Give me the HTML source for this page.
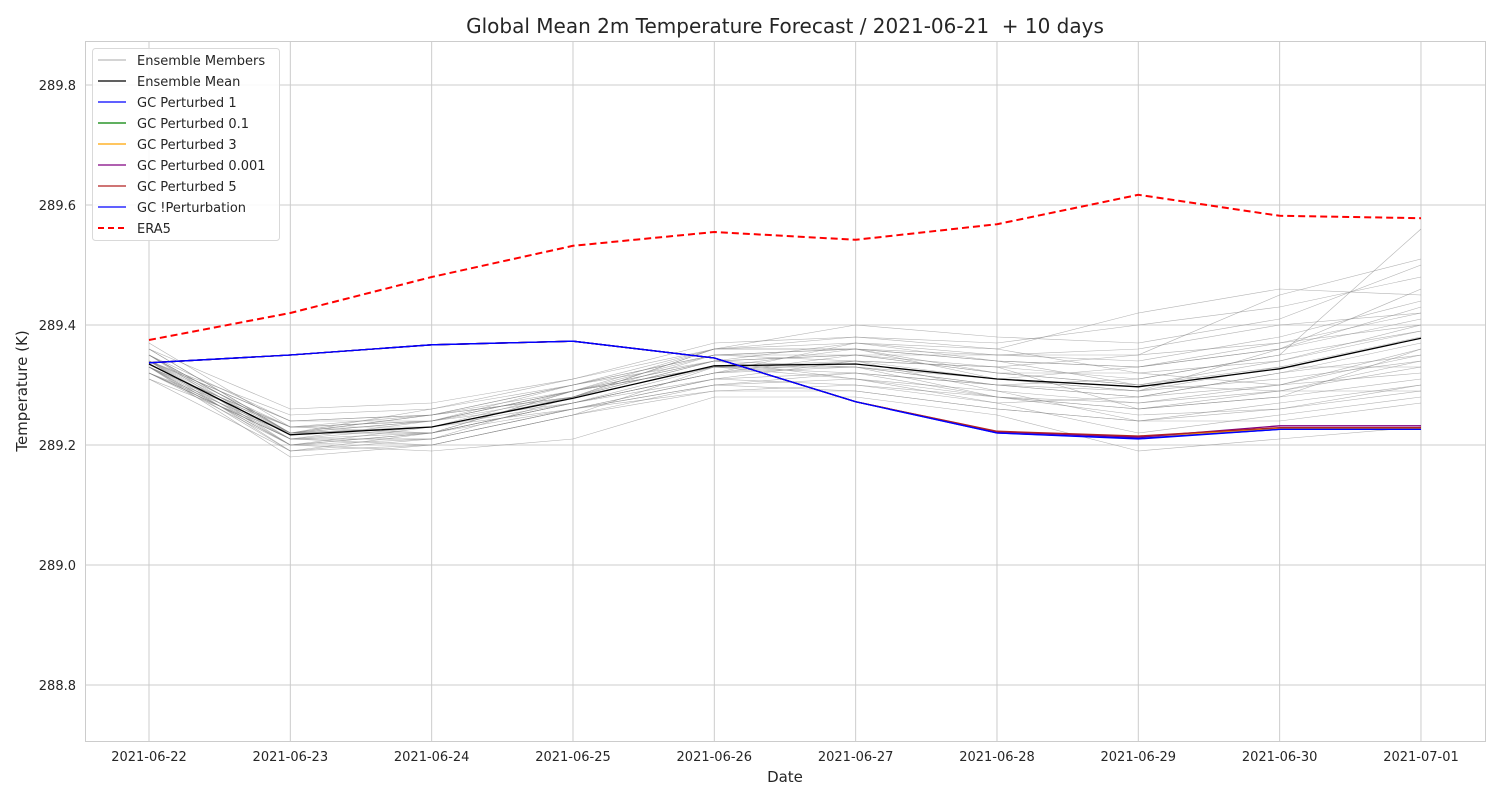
<!DOCTYPE html>
<html><head><meta charset="utf-8">
<style>
body{margin:0;background:#fff;}
svg text{font-family:"DejaVu Sans","Liberation Sans",sans-serif;fill:#262626;}
</style></head>
<body>
<svg id="chart" width="1500" height="800" xmlns="http://www.w3.org/2000/svg">
<rect width="1500" height="800" fill="#fff"/>
<g id="grid"></g>
<g id="members"></g>
<g id="series"></g>
<g id="axes"></g>
<text x="785" y="33" font-size="20" text-anchor="middle" style="white-space:pre">Global Mean 2m Temperature Forecast / 2021-06-21  + 10 days</text>
<text x="785" y="782" font-size="15" text-anchor="middle">Date</text>
<text x="27" y="391" font-size="15" text-anchor="middle" transform="rotate(-90 27 391)">Temperature (K)</text>
<g id="legend"></g>
</svg>
<script>
const dates=["2021-06-22","2021-06-23","2021-06-24","2021-06-25","2021-06-26","2021-06-27","2021-06-28","2021-06-29","2021-06-30","2021-07-01"];
const yTicks=[288.8,289.0,289.2,289.4,289.6,289.8];
const era5=[289.375,289.42,289.48,289.532,289.555,289.542,289.568,289.617,289.582,289.578];
const ensMean=[289.335,289.217,289.23,289.278,289.332,289.335,289.31,289.297,289.327,289.378];
const gc1=[289.337,289.35,289.367,289.373,289.345,289.272,289.22,289.21,289.226,289.226];
const gc01=[289.337,289.35,289.367,289.373,289.345,289.272,289.222,289.214,289.228,289.228];
const gc3=[289.337,289.35,289.367,289.373,289.345,289.272,289.222,289.213,289.228,289.228];
const gc0001=[289.337,289.35,289.367,289.373,289.345,289.272,289.222,289.213,289.232,289.232];
const gc5=[289.337,289.35,289.367,289.373,289.345,289.272,289.223,289.215,289.229,289.229];
const gcNone=[289.337,289.35,289.367,289.373,289.345,289.272,289.22,289.211,289.226,289.226];
const members=[
[289.34,289.22,289.23,289.28,289.34,289.35,289.32,289.30,289.34,289.40],
[289.33,289.21,289.22,289.27,289.33,289.33,289.30,289.28,289.30,289.36],
[289.35,289.24,289.25,289.30,289.35,289.36,289.34,289.33,289.36,289.46],
[289.32,289.20,289.21,289.26,289.31,289.32,289.28,289.26,289.29,289.33],
[289.36,289.26,289.27,289.31,289.37,289.38,289.36,289.42,289.46,289.45],
[289.31,289.19,289.20,289.25,289.29,289.29,289.26,289.24,289.27,289.30],
[289.33,289.23,289.24,289.29,289.36,289.40,289.38,289.37,289.41,289.50],
[289.34,289.20,289.19,289.21,289.28,289.28,289.25,289.19,289.21,289.23],
[289.35,289.22,289.22,289.27,289.32,289.34,289.33,289.31,289.35,289.56],
[289.32,289.21,289.23,289.29,289.34,289.31,289.29,289.27,289.29,289.29],
[289.34,289.25,289.26,289.30,289.35,289.36,289.35,289.36,289.40,289.42],
[289.33,289.19,289.21,289.26,289.30,289.32,289.30,289.28,289.32,289.37],
[289.37,289.23,289.24,289.28,289.33,289.34,289.31,289.33,289.37,289.40],
[289.31,289.22,289.22,289.27,289.31,289.30,289.27,289.22,289.25,289.28],
[289.35,289.21,289.24,289.30,289.34,289.35,289.33,289.35,289.45,289.51],
[289.33,289.18,289.20,289.25,289.33,289.33,289.31,289.29,289.31,289.34],
[289.34,289.24,289.25,289.28,289.36,289.37,289.34,289.30,289.33,289.38],
[289.32,289.22,289.23,289.26,289.29,289.30,289.28,289.25,289.26,289.30],
[289.36,289.22,289.26,289.31,289.36,289.38,289.37,289.40,289.43,289.48],
[289.33,289.20,289.22,289.27,289.32,289.33,289.28,289.27,289.30,289.35],
[289.34,289.23,289.22,289.29,289.33,289.36,289.32,289.32,289.34,289.39],
[289.32,289.21,289.20,289.25,289.30,289.29,289.26,289.24,289.24,289.27],
[289.35,289.22,289.25,289.29,289.35,289.35,289.35,289.34,289.38,289.44],
[289.33,289.23,289.23,289.28,289.34,289.33,289.30,289.29,289.33,289.33],
[289.34,289.19,289.22,289.26,289.31,289.34,289.33,289.26,289.28,289.36],
[289.36,289.22,289.24,289.29,289.34,289.37,289.35,289.35,289.37,289.42],
[289.32,289.21,289.21,289.26,289.30,289.31,289.28,289.26,289.28,289.31],
[289.34,289.24,289.24,289.29,289.33,289.32,289.30,289.31,289.35,289.39],
[289.33,289.20,289.23,289.27,289.32,289.35,289.32,289.30,289.29,289.34],
[289.35,289.22,289.25,289.30,289.36,289.36,289.34,289.33,289.36,289.41],
[289.34,289.21,289.21,289.28,289.35,289.34,289.29,289.24,289.26,289.29],
[289.33,289.22,289.24,289.27,289.32,289.37,289.36,289.32,289.30,289.32],
[289.35,289.20,289.22,289.29,289.33,289.31,289.27,289.28,289.32,289.35],
[289.32,289.23,289.25,289.28,289.36,289.36,289.31,289.29,289.36,289.43]
];
const NS="http://www.w3.org/2000/svg";
const X0=149,XSTEP=141.33,Y0=325,YPX=600;
function xs(i){return X0+i*XSTEP;}
function ys(v){return Y0-(v-289.4)*YPX;}
function mk(tag,attrs,parent){const e=document.createElementNS(NS,tag);for(const k in attrs)e.setAttribute(k,attrs[k]);parent.appendChild(e);return e;}
const grid=document.getElementById('grid'),axes=document.getElementById('axes');
mk('rect',{x:85.5,y:41.5,width:1400,height:700,fill:'none',stroke:'#cccccc','stroke-width':1},axes);
dates.forEach((d,i)=>{
 const l=mk('line',{x1:xs(i),x2:xs(i),y1:41,y2:741,stroke:'#cccccc','stroke-width':1},grid);
 
 
 const t=mk('text',{x:xs(i),y:761,'font-size':13,'text-anchor':'middle'},axes);
 t.textContent=d;
 
 
});
yTicks.forEach(v=>{
 const l=mk('line',{x1:85,x2:1485,y1:ys(v),y2:ys(v),stroke:'#cccccc','stroke-width':1},grid);
 
 
 const t=mk('text',{x:76,y:ys(v)+5,'font-size':13,'text-anchor':'end'},axes);
 t.textContent=v.toFixed(1);
 
 
});
function pts(arr){return arr.map((v,i)=>xs(i).toFixed(1)+','+ys(v).toFixed(1)).join(' ');}
const mg=document.getElementById('members');
members.forEach(m=>{
 const p=mk('polyline',{points:pts(m),fill:'none',stroke:'#808080','stroke-width':0.6,'stroke-opacity':0.6},mg);
 
 
});
const sg=document.getElementById('series');
const series=[
 {d:ensMean,c:'#000000',n:'ensemble-mean-line'},
 {d:gc01,c:'#008000',n:'gc-perturbed-0.1-line'},
 {d:gc3,c:'#ffa500',n:'gc-perturbed-3-line'},
 {d:gc0001,c:'#800080',n:'gc-perturbed-0.001-line'},
 {d:gc5,c:'#b22222',n:'gc-perturbed-5-line'},
 {d:gc1,c:'#0000ff',n:'gc-perturbed-1-line'},
 {d:gcNone,c:'#0000ff',n:'gc-no-perturbation-line'}
];
series.forEach(s=>{
 const p=mk('polyline',{points:pts(s.d),fill:'none',stroke:s.c,'stroke-width':1.3},sg);
 
 
});
const ep=mk('polyline',{points:pts(era5),fill:'none',stroke:'#ff0000','stroke-width':2,'stroke-dasharray':'7,4'},sg);


const lg=document.getElementById('legend');
mk('rect',{x:92.5,y:48.5,width:187,height:192,rx:3,fill:'#fff','fill-opacity':0.85,stroke:'#d9d9d9'},lg);
const entries=[['Ensemble Members','#bbbbbb',''],['Ensemble Mean','#000000',''],['GC Perturbed 1','#0000ff',''],['GC Perturbed 0.1','#008000',''],['GC Perturbed 3','#ffa500',''],['GC Perturbed 0.001','#800080',''],['GC Perturbed 5','#b22222',''],['GC !Perturbation','#0000ff',''],['ERA5','#ff0000','6,4']];
entries.forEach((e,i)=>{
 const y=60+i*21;
 const g=mk('g',{},lg);
 
 
 mk('line',{x1:98,x2:126,y1:y,y2:y,stroke:e[1],'stroke-width':e[2]?2:1.3,'stroke-dasharray':e[2]||'none'},g);
 const t=mk('text',{x:137,y:y+5,'font-size':13},g);
 t.textContent=e[0];
});
</script>
</body></html>
